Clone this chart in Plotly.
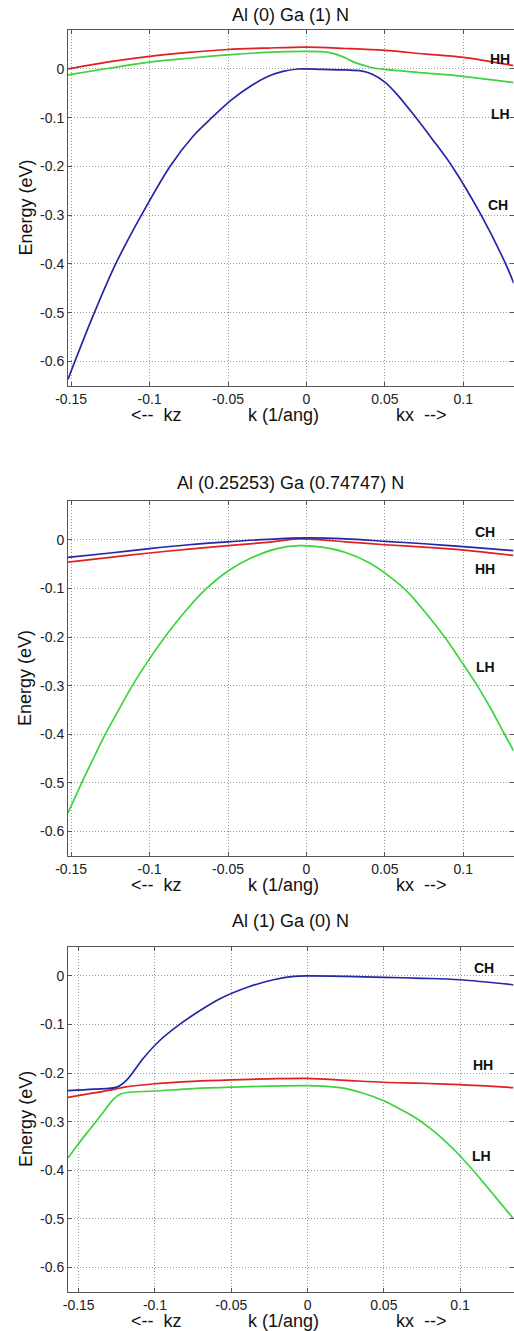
import plotly.graph_objects as go

W, H = 514, 1331

titles = ["Al (0) Ga (1) N", "Al (0.25253) Ga (0.74747) N", "Al (1) Ga (0) N"]
xlabel_parts = ["<--  kz", "k (1/ang)", "kx  -->"]
ylabel = "Energy (eV)"

x_tickvals = [-0.15, -0.1, -0.05, 0, 0.05, 0.1]
x_ticktext = ["-0.15", "-0.1", "-0.05", "0", "0.05", "0.1"]
y_tickvals = [-0.6, -0.5, -0.4, -0.3, -0.2, -0.1, 0]
y_ticktext = ["-0.6", "-0.5", "-0.4", "-0.3", "-0.2", "-0.1", "0"]

# ---------------- Panel 1: Al(0) Ga(1) N ----------------
p1_hh_k = [-0.152, -0.125, -0.100, -0.075, -0.050, -0.025, 0.000, 0.025, 0.050, 0.075, 0.100, 0.132]
p1_hh_e = [0.000, 0.015, 0.026, 0.034, 0.040, 0.043, 0.045, 0.042, 0.038, 0.031, 0.024, 0.007]

p1_lh_k = [-0.152, -0.125, -0.100, -0.075, -0.050, -0.025, 0.000, 0.014, 0.020, 0.026, 0.031, 0.037, 0.043, 0.050, 0.075, 0.100, 0.132]
p1_lh_e = [-0.012, 0.002, 0.014, 0.022, 0.029, 0.034, 0.036, 0.034, 0.029, 0.021, 0.013, 0.007, 0.002, -0.001, -0.008, -0.015, -0.028]

p1_ch_k = [-0.152, -0.1476, -0.1352, -0.1216, -0.1052, -0.0870, -0.072, -0.060, -0.048, -0.035, -0.025, -0.015, -0.005,
           0.010, 0.025, 0.035, 0.042, 0.050, 0.058, 0.0674, 0.080, 0.0929, 0.1114, 0.127, 0.1322]
p1_ch_e = [-0.637, -0.600, -0.500, -0.400, -0.300, -0.200, -0.137, -0.099, -0.064, -0.034, -0.016, -0.005, 0.000,
           -0.001, -0.002, -0.004, -0.011, -0.027, -0.053, -0.090, -0.143, -0.200, -0.300, -0.400, -0.440]

# ---------------- Panel 2: Al(0.25253) Ga(0.74747) N ----------------
p2_ch_k = [-0.152, -0.125, -0.100, -0.075, -0.050, -0.025, 0.000, 0.025, 0.050, 0.075, 0.100, 0.132]
p2_ch_e = [-0.036, -0.027, -0.018, -0.010, -0.004, 0.001, 0.004, 0.002, -0.003, -0.008, -0.014, -0.022]

p2_hh_k = [-0.152, -0.125, -0.100, -0.075, -0.050, -0.025, -0.005, 0.010, 0.025, 0.050, 0.075, 0.100, 0.132]
p2_hh_e = [-0.046, -0.036, -0.027, -0.019, -0.012, -0.005, 0.002, 0.000, -0.004, -0.010, -0.015, -0.021, -0.032]

p2_lh_k = [-0.152, -0.1437, -0.136, -0.1282, -0.120, -0.1112, -0.1005, -0.0893, -0.078, -0.065, -0.050, -0.035, -0.020,
           -0.005, 0.010, 0.025, 0.040, 0.052, 0.0635, 0.076, 0.0886, 0.0985, 0.1089, 0.1175, 0.1258, 0.1322]
p2_lh_e = [-0.562, -0.503, -0.451, -0.400, -0.352, -0.301, -0.247, -0.196, -0.150, -0.104, -0.064, -0.037, -0.019,
           -0.012, -0.015, -0.026, -0.047, -0.073, -0.104, -0.150, -0.202, -0.249, -0.300, -0.347, -0.397, -0.435]

# ---------------- Panel 3: Al(1) Ga(0) N ----------------
p3_ch_k = [-0.157, -0.140, -0.125, -0.1184, -0.1075, -0.0965, -0.0856, -0.0747, -0.058, -0.038, -0.0223, -0.009, 0.000,
           0.025, 0.050, 0.075, 0.100, 0.135]
p3_ch_e = [-0.236, -0.233, -0.229, -0.214, -0.169, -0.132, -0.104, -0.080, -0.048, -0.022, -0.008, -0.001, 0.000,
           -0.001, -0.003, -0.005, -0.008, -0.0185]

p3_hh_k = [-0.157, -0.140, -0.126, -0.120, -0.100, -0.075, -0.050, -0.025, 0.000, 0.025, 0.050, 0.075, 0.100, 0.135]
p3_hh_e = [-0.250, -0.241, -0.233, -0.229, -0.222, -0.217, -0.214, -0.212, -0.211, -0.215, -0.219, -0.221, -0.224, -0.230]

p3_lh_k = [-0.157, -0.150, -0.142, -0.134, -0.127, -0.1225, -0.118, -0.100, -0.075, -0.050, -0.025, 0.000, 0.010,
           0.0236, 0.035, 0.050, 0.060, 0.0717, 0.080, 0.0891, 0.098, 0.107, 0.116, 0.125, 0.135]
p3_lh_e = [-0.375, -0.345, -0.313, -0.281, -0.253, -0.243, -0.240, -0.237, -0.232, -0.229, -0.227, -0.226, -0.227,
           -0.231, -0.240, -0.257, -0.273, -0.294, -0.313, -0.337, -0.364, -0.395, -0.428, -0.462, -0.500]

band_names = ["HH", "LH", "CH"]

RED, GREEN, BLUE = "#e02020", "#3cd43c", "#2626a6"
FONT = "Liberation Sans, Arial, sans-serif"

panels = [
    dict(curves=[(p1_hh_k, p1_hh_e, RED), (p1_lh_k, p1_lh_e, GREEN), (p1_ch_k, p1_ch_e, BLUE)],
         xr=[-0.152, 0.132], yr=[-0.65, 0.08], top=30, bottom=385.7, title_y=15,
         labels=[("HH", 512, 59), ("LH", 512, 114), ("CH", 510, 205)]),
    dict(curves=[(p2_hh_k, p2_hh_e, RED), (p2_ch_k, p2_ch_e, BLUE), (p2_lh_k, p2_lh_e, GREEN)],
         xr=[-0.152, 0.132], yr=[-0.65, 0.08], top=501, bottom=855.7, title_y=483,
         labels=[("CH", 497, 532), ("HH", 497, 569), ("LH", 497, 667)]),
    dict(curves=[(p3_hh_k, p3_hh_e, RED), (p3_lh_k, p3_lh_e, GREEN), (p3_ch_k, p3_ch_e, BLUE)],
         xr=[-0.157, 0.135], yr=[-0.65, 0.06], top=946.7, bottom=1291.7, title_y=920.7,
         labels=[("CH", 496, 968), ("HH", 495, 1065), ("LH", 493, 1156)]),
]

def fy(px):
    return 1 - px / H

def fx(px):
    return px / W

fig = go.Figure()
annotations = []
x_left, x_right = 68, 513.5

for i, p in enumerate(panels):
    n = i + 1
    xa = "x" if n == 1 else f"x{n}"
    ya = "y" if n == 1 else f"y{n}"
    for k, e, c in p["curves"]:
        fig.add_trace(go.Scatter(x=k, y=e, mode="lines", xaxis=xa, yaxis=ya,
                                 line=dict(color=c, width=1.7, shape="spline", smoothing=0.9),
                                 showlegend=False, hoverinfo="skip"))
    axis_common = dict(showgrid=True, gridcolor="#9a9a9a", griddash="1px,2px", gridwidth=1,
                       showline=True, linecolor="#555555", linewidth=1, mirror="ticks",
                       ticks="inside", ticklen=4, tickcolor="#555555", zeroline=False,
                       automargin=False,
                       tickfont=dict(family=FONT, size=14, color="#222222"))
    fig.update_layout(**{
        ("xaxis" if n == 1 else f"xaxis{n}"): dict(
            domain=[fx(x_left), fx(x_right)], range=p["xr"], anchor=ya,
            tickmode="array", tickvals=x_tickvals, ticktext=x_ticktext, **axis_common),
        ("yaxis" if n == 1 else f"yaxis{n}"): dict(
            domain=[fy(p["bottom"]), fy(p["top"])], range=p["yr"], anchor=xa,
            tickmode="array", tickvals=y_tickvals, ticktext=y_ticktext, **axis_common),
    })
    cx = (x_left + x_right) / 2
    annotations.append(dict(text=titles[i], x=fx(cx), y=fy(p["title_y"]), xref="paper", yref="paper",
                            xanchor="center", yanchor="middle", showarrow=False,
                            font=dict(family=FONT, size=18, color="#111111")))
    xl_y = p["bottom"] + 29
    for txt, px in zip(xlabel_parts, [156, 283, 421]):
        annotations.append(dict(text=txt, x=fx(px), y=fy(xl_y), xref="paper", yref="paper",
                                xanchor="center", yanchor="middle", showarrow=False,
                                font=dict(family=FONT, size=18, color="#111111")))
    annotations.append(dict(text=ylabel, x=fx(25.7), y=fy((p["top"] + p["bottom"]) / 2),
                            xref="paper", yref="paper", textangle=-90,
                            xanchor="center", yanchor="middle", showarrow=False,
                            font=dict(family=FONT, size=18, color="#111111")))
    for name, rx, cy in p["labels"]:
        annotations.append(dict(text=f"<b>{name}</b>", x=fx(rx), y=fy(cy), xref="paper", yref="paper",
                                xanchor="right", yanchor="middle", showarrow=False,
                                font=dict(family=FONT, size=14, color="#111111")))

fig.update_layout(width=W, height=H, margin=dict(l=0, r=0, t=0, b=0),
                  paper_bgcolor="white", plot_bgcolor="white",
                  annotations=annotations, showlegend=False)

fig.write_html("out.html", config={"displayModeBar": False},
               post_script="document.body.style.margin='0';document.body.style.overflow='hidden';"
                           "document.documentElement.style.overflow='hidden';")
